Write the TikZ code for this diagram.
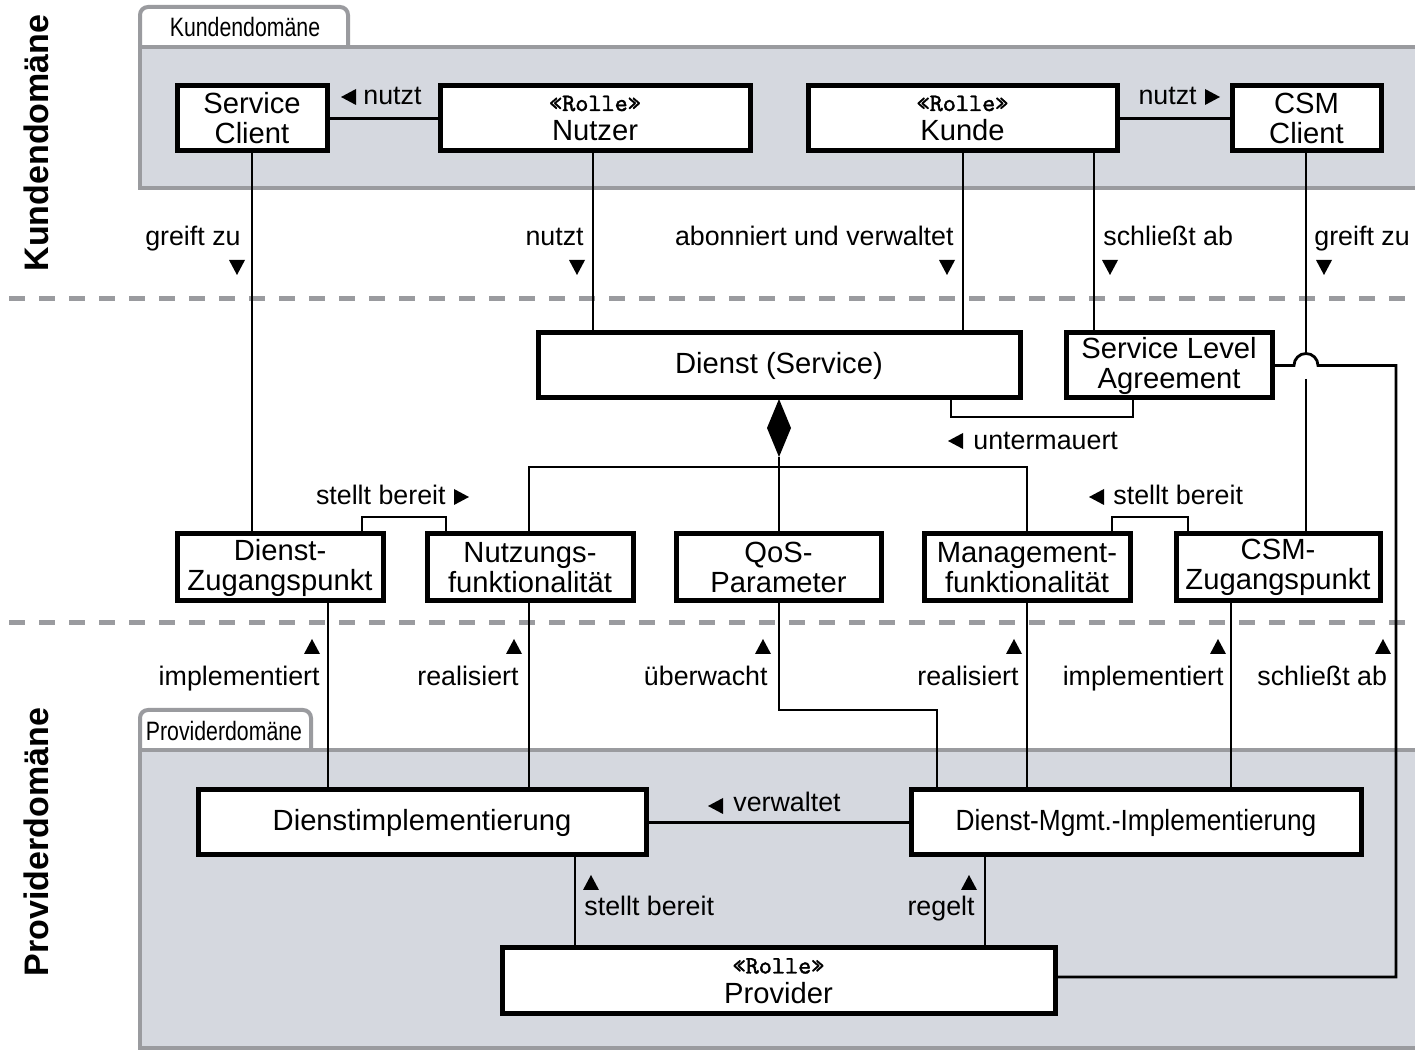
\documentclass[tikz,border=0pt]{standalone}
\usepackage{fontspec}
\setmainfont{Liberation Sans}
\newfontfamily\RolleFam{lmmono10-regular}[Extension=.otf, FakeBold=1.6]
\usetikzlibrary{calc}
\definecolor{panelgray}{HTML}{9A9B9F}
\definecolor{panelfill}{HTML}{D5D8DF}
\definecolor{sepgray}{HTML}{9A9B9F}
\newcommand\BoxFont{\fontsize{14.6}{15}\selectfont}
\newcommand\LblFont{\fontsize{13.4}{15}\selectfont}
\newcommand\RolleTxt{{\RolleFam\fontsize{12.5}{12}\selectfont «Rolle»}}
\newcommand\TriD[1]{\fill (#1) ++(-8,-7) -- ++(16,0) -- ++(-8,15) -- cycle;}
\newcommand\TriU[1]{\fill (#1) ++(-8,7) -- ++(16,0) -- ++(-8,-15) -- cycle;}
\newcommand\TriL[1]{\fill (#1) ++(7,-8) -- ++(0,16) -- ++(-15,-8) -- cycle;}
\newcommand\TriR[1]{\fill (#1) ++(-7,-8) -- ++(0,16) -- ++(15,-8) -- cycle;}
\tikzset{
  box/.style={draw=black, line width=2.5pt, fill=white, inner sep=0pt, align=center, font=\BoxFont},
  conn/.style={line width=1.4pt, draw=black},
  lbl/.style={inner sep=0pt, font=\LblFont},
  panel/.style={draw=panelgray, line width=2pt, fill=panelfill},
  tab/.style={draw=panelgray, line width=2pt, fill=white, rounded corners=4pt},
  sep/.style={draw=sepgray, line width=2.5pt, dash pattern=on 8pt off 7pt},
}
\begin{document}
\begin{tikzpicture}[x=0.5pt,y=-0.5pt]
\useasboundingbox (0,0) rectangle (1415,1052);
\fill[white] (0,0) rectangle (1415,1052);
% panels
\path[tab] (140,48) -- (140,7) -- (348,7) -- (348,48);
\path[panel] (140,47) rectangle (1430,188);
\node[inner sep=0pt, font=\fontsize{13.3}{14}\selectfont] (tabK) at (245,27) {\scalebox{0.8}[1]{Kundendomäne}};
\path[tab] (140,751) -- (140,710) -- (311,710) -- (311,751);
\path[panel] (140,750) rectangle (1430,1048);
\node[inner sep=0pt, font=\fontsize{13.3}{14}\selectfont] (tabP) at (224,731) {\scalebox{0.8}[1]{Providerdomäne}};
% side labels
\node[rotate=90, inner sep=0pt, font=\fontsize{17}{18}\selectfont\bfseries] (lK) at (36,143) {Kundendomäne};
\node[rotate=90, inner sep=0pt, font=\fontsize{17}{18}\selectfont\bfseries] (lP) at (36,842) {Providerdomäne};
% separators
\draw[sep] (9,299) -- (1415,299);
\draw[sep] (9,623) -- (1415,623);
% boxes
\node[box, minimum width=75pt, minimum height=32.5pt] (SC) at (252,118.5) {Service\\Client};
\node[box, minimum width=155pt, minimum height=32.5pt] (Nutzer) at (595,118.5) {\RolleTxt\\Nutzer};
\node[box, minimum width=154.5pt, minimum height=32.5pt] (Kunde) at (962.5,118.5) {\RolleTxt\\Kunde};
\node[box, minimum width=74.5pt, minimum height=32.5pt] (CSMC) at (1306.5,118.5) {CSM\\Client};
\node[box, minimum width=241pt, minimum height=32.5pt] (Dienst) at (779,365.5) {Dienst (Service)};
\node[box, minimum width=103pt, minimum height=32.5pt] (SLA) at (1169,365.5) {Service Level\\Agreement};
\node[box, minimum width=103pt, minimum height=33.5pt] (DZ) at (280,567.5) {Dienst-\\Zugangspunkt};
\node[box, minimum width=103pt, minimum height=33.5pt] (NF) at (530,567.5) {Nutzungs-\\funktionalität};
\node[box, minimum width=102.5pt, minimum height=33.5pt] (QoS) at (778.5,567.5) {QoS-\\Parameter};
\node[box, minimum width=103pt, minimum height=33.5pt] (MF) at (1027,567.5) {Management-\\funktionalität};
\node[box, minimum width=102pt, minimum height=33.5pt] (CSMZ) at (1278,567.5) {CSM-\\Zugangspunkt};
\node[box, minimum width=224pt, minimum height=32.5pt] (DI) at (422,822.5) {Dienstimplementierung};
\node[box, minimum width=225pt, minimum height=32.5pt] (DMI) at (1136,822.5) {\scalebox{0.9}[1]{Dienst-Mgmt.-Implementierung}};
\node[box, minimum width=276.5pt, minimum height=33pt] (Prov) at (778.5,981) {\RolleTxt\\Provider};
% connectors
\draw[conn] (SC.east) -- (Nutzer.west);
\draw[conn] (Kunde.east) -- (CSMC.west);
\draw[conn] (SC.south) -- (SC.south |- DZ.north);
\draw[conn] (593,0 |- Nutzer.south) -- (593,0 |- Dienst.north);
\draw[conn] (963,0 |- Kunde.south) -- (963,0 |- Dienst.north);
\draw[conn] (1094,0 |- Kunde.south) -- (1094,0 |- SLA.north);
\coordinate (hopTop) at (1306,353.5);
\coordinate (hopBot) at (1306,379);
\draw[conn] (1306,0 |- CSMC.south) -- (hopTop);
\draw[conn] (hopBot) -- (1306,0 |- CSMZ.north);
\coordinate (slaR) at (1396,365.5);
\coordinate (provR) at (1396,977);
\draw[conn] (SLA.east) -- (1294,365.5) arc[start angle=180, end angle=0, radius=6pt] -- (slaR) -- (provR) -- (provR -| Prov.east);
\draw[conn] (951,0 |- Dienst.south) -- (951,417) -- (1133,417) -- (1133,0 |- SLA.south);
% composition diamond
\coordinate (diaT) at (779,399);
\coordinate (diaB) at (779,457);
\fill (diaT) -- (791,428) -- (diaB) -- (767,428) -- cycle;
\coordinate (junc) at (779,467);
\draw[conn] (diaB) -- (junc);
\draw[conn] (529,0 |- NF.north) -- (529,467) -- (1027,467) -- (1027,0 |- MF.north);
\draw[conn] (junc) -- (779,0 |- QoS.north);
\draw[conn] (362,0 |- DZ.north) -- (362,517) -- (446,517) -- (446,0 |- NF.north);
\draw[conn] (1112,0 |- MF.north) -- (1112,517) -- (1188,517) -- (1188,0 |- CSMZ.north);
\draw[conn] (328,0 |- DZ.south) -- (328,0 |- DI.north);
\draw[conn] (529,0 |- NF.south) -- (529,0 |- DI.north);
\draw[conn] (779,0 |- QoS.south) -- (779,710) -- (937,710) -- (937,0 |- DMI.north);
\draw[conn] (1027,0 |- MF.south) -- (1027,0 |- DMI.north);
\draw[conn] (1231,0 |- CSMZ.south) -- (1231,0 |- DMI.north);
\draw[conn] (DI.east) -- (DMI.west);
\draw[conn] (575,0 |- DI.south) -- (575,0 |- Prov.north);
\draw[conn] (985,0 |- DMI.south) -- (985,0 |- Prov.north);
% labels
\TriL{349,97}
\node[lbl, anchor=mid west] (l1) at (363,99) {nutzt};
\node[lbl, anchor=mid east] (l2) at (1197,99) {nutzt};
\TriR{1212,97}
\node[lbl, anchor=mid east] (l3) at (241,240) {greift zu};
\TriD{237,267}
\node[lbl, anchor=mid east] (l4) at (584,240) {nutzt};
\TriD{577,267}
\node[lbl, anchor=mid east] (l5) at (954,240) {abonniert und verwaltet};
\TriD{947,267}
\node[lbl, anchor=mid west] (l6) at (1103,240) {schließt ab};
\TriD{1110,267}
\node[lbl, anchor=mid west] (l7) at (1314,240) {greift zu};
\TriD{1324,267}
\TriL{956,441}
\node[lbl, anchor=mid west] (l8) at (973,444) {untermauert};
\node[lbl, anchor=mid east] (l9) at (446,499) {stellt bereit};
\TriR{461,497}
\TriL{1097,497}
\node[lbl, anchor=mid west] (l10) at (1113,499) {stellt bereit};
\TriU{312,647}
\node[lbl, anchor=mid east] (l11) at (320,680) {implementiert};
\TriU{514,647}
\node[lbl, anchor=mid east] (l12) at (519,680) {realisiert};
\TriU{763,647}
\node[lbl, anchor=mid east] (l13) at (768,680) {überwacht};
\TriU{1014,647}
\node[lbl, anchor=mid east] (l14) at (1019,680) {realisiert};
\TriU{1218,647}
\node[lbl, anchor=mid east] (l15) at (1224,680) {implementiert};
\TriU{1383,647}
\node[lbl, anchor=mid west] (l16) at (1257,680) {schließt ab};
\TriL{716,806}
\node[lbl, anchor=mid west] (l17) at (733,806) {verwaltet};
\TriU{591,883}
\node[lbl, anchor=mid west] (l18) at (584,910) {stellt bereit};
\TriU{969,883}
\node[lbl, anchor=mid east] (l19) at (975,910) {regelt};
\end{tikzpicture}
\end{document}
